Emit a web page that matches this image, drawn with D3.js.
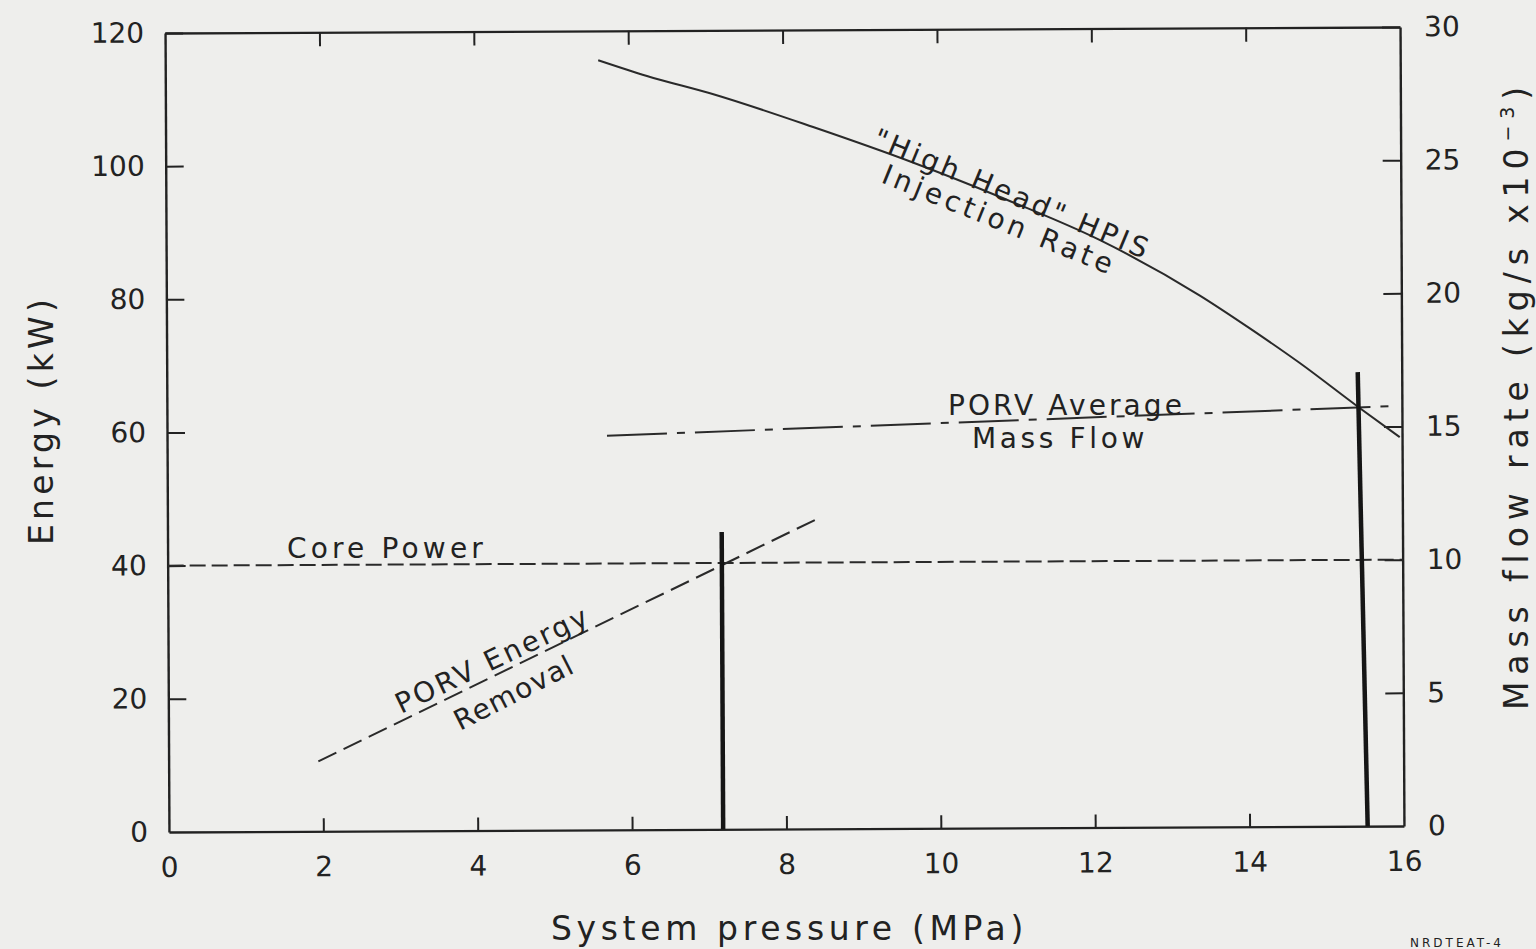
<!DOCTYPE html>
<html>
<head>
<meta charset="utf-8">
<script src="https://cdn.jsdelivr.net/npm/d3@7"></script>
<style>
  body { margin: 0; background: #eeeeec; }
  svg { display: block; }
  text { font-family: "DejaVu Sans", sans-serif; fill: #222; }
</style>
</head>
<body>
<svg id="chart" width="1536" height="949"></svg>
<script>
// axis ticks
var pressureTicks = [0, 2, 4, 6, 8, 10, 12, 14, 16];
var energyTicks = [0, 20, 40, 60, 80, 100, 120];
var flowTicks = [0, 5, 10, 15, 20, 25, 30];

// "High Head" HPIS injection rate (kg/s x10^-3) vs pressure (MPa)
var hpisPressure = [5.61, 6.24, 7.10, 8.39, 9.68, 10.80, 12.10, 13.39, 14.04, 14.68, 15.43, 15.97];
var hpisFlow     = [28.9, 28.3, 27.6, 26.35, 25.0, 23.7, 22.05, 19.95, 18.7, 17.4, 15.75, 14.6];

// PORV average mass flow (kg/s x10^-3)
var porvFlowPressure = [5.70, 15.91];
var porvFlow         = [14.8, 15.77];

// core power (kW)
var corePressure = [0, 16];
var corePower    = [40, 40];

// PORV energy removal (kW)
var porvEnergyPressure = [1.94, 8.39];
var porvEnergy         = [10.5, 46.4];

// the two heavy vertical markers (top / bottom pressure, top energy)
var markerTopPressure    = [7.18, 15.43];
var markerBottomPressure = [7.18, 15.53];
var markerTopEnergy      = [44.65, 68.2];

var ink = "#222";
var svg = d3.select("#chart");

var x = d3.scaleLinear().domain([0, 16]).range([167, 1402]);
var yE = d3.scaleLinear().domain([0, 120]).range([829, 30]);
var yF = d3.scaleLinear().domain([0, 30]).range([829, 30]);

// the scanned page sits slightly tilted
var g = svg.append("g").attr("transform", "rotate(-0.28, 785, 430)");

function styleAxis(sel) {
  sel.selectAll("path.domain").attr("stroke", ink).attr("stroke-width", 2.4);
  sel.selectAll(".tick line").attr("stroke", ink).attr("stroke-width", 2);
  sel.selectAll(".tick text")
    .attr("font-family", "DejaVu Sans")
    .attr("font-size", 28)
    .attr("fill", ink);
}

g.append("g")
  .attr("transform", "translate(0," + yE(0) + ")")
  .call(d3.axisBottom(x).tickValues(pressureTicks).tickSizeInner(-13).tickSizeOuter(0).tickPadding(25))
  .call(styleAxis);

g.append("g")
  .attr("transform", "translate(0," + yE(120) + ")")
  .call(d3.axisTop(x).tickValues(pressureTicks.slice(1, -1)).tickFormat("").tickSizeInner(-14).tickSizeOuter(0))
  .call(styleAxis);

g.append("g")
  .attr("transform", "translate(" + x(0) + ",0)")
  .call(d3.axisLeft(yE).tickValues(energyTicks).tickSizeInner(-18).tickSizeOuter(0).tickPadding(21))
  .call(styleAxis);

g.append("g")
  .attr("transform", "translate(" + x(16) + ",0)")
  .call(d3.axisRight(yF).tickValues(flowTicks).tickSizeInner(-18).tickSizeOuter(0).tickPadding(24))
  .call(styleAxis);

// no tick strokes at the corners
g.selectAll(".tick line").filter(function(d) { return d === 0 || d === 16; }).remove();

function drawLine(xs, ys, yScale, width, dash) {
  var pts = xs.map(function(v, i) { return [v, ys[i]]; });
  var line = d3.line()
    .x(function(d) { return x(d[0]); })
    .y(function(d) { return yScale(d[1]); })
    .curve(d3.curveMonotoneX);
  g.append("path")
    .attr("d", line(pts))
    .attr("fill", "none")
    .attr("stroke", "#2a2a2a")
    .attr("stroke-width", width)
    .attr("stroke-dasharray", dash || null);
}

drawLine(hpisPressure, hpisFlow, yF, 2);
drawLine(porvFlowPressure, porvFlow, yF, 2, "60,10,8,10");
drawLine(corePressure, corePower, yE, 2, "16,6");
drawLine(porvEnergyPressure, porvEnergy, yE, 2, "20,8");

markerTopPressure.forEach(function(p, i) {
  g.append("line")
    .attr("x1", x(p)).attr("y1", yE(markerTopEnergy[i]))
    .attr("x2", x(markerBottomPressure[i])).attr("y2", yE(0))
    .attr("stroke", "#151515")
    .attr("stroke-width", 4.5);
});

// fit a text to the measured width of the original lettering
function fit(sel, len) {
  var n = sel.text().length;
  var w = sel.node().getComputedTextLength();
  sel.attr("letter-spacing", (len - w) / n);
  return sel;
}

function label(str, tx, ty, angle, size, len) {
  var t = svg.append("text")
    .attr("transform", "translate(" + tx + "," + ty + ") rotate(" + angle + ")")
    .attr("font-size", size)
    .text(str);
  fit(t, len);
  return t;
}

// axis titles
label("System pressure (MPa)", 551, 940, 0, 33, 477);
label("Energy (kW)", 53, 545, -90, 33, 250);

var rt = svg.append("text")
  .attr("transform", "translate(1528,710) rotate(-90)")
  .attr("font-size", 33);
rt.append("tspan").text("Mass flow rate (kg/s x10");
rt.append("tspan").attr("font-size", 19).attr("dy", -14).text("\u22123");
rt.append("tspan").attr("dy", 14).text(")");
fit(rt, 630);

// curve annotations
label("Core Power", 287, 558, 0, 28, 200);
label("PORV Average", 948, 415, 0, 28, 237);
label("Mass Flow", 972, 448, 0, 28, 176);
label("\"High Head\" HPIS", 871, 146, 22.5, 28, 298);
label("Injection Rate", 880, 182, 22, 28, 250);
label("PORV Energy", 401, 714, -25.5, 28, 212);
label("Removal", 460, 731, -27, 28, 131);

// figure id at the page edge
svg.append("text")
  .attr("x", 1410).attr("y", 947)
  .attr("font-size", 12)
  .attr("letter-spacing", 3)
  .text("NRDTEAT-4");
</script>
</body>
</html>
